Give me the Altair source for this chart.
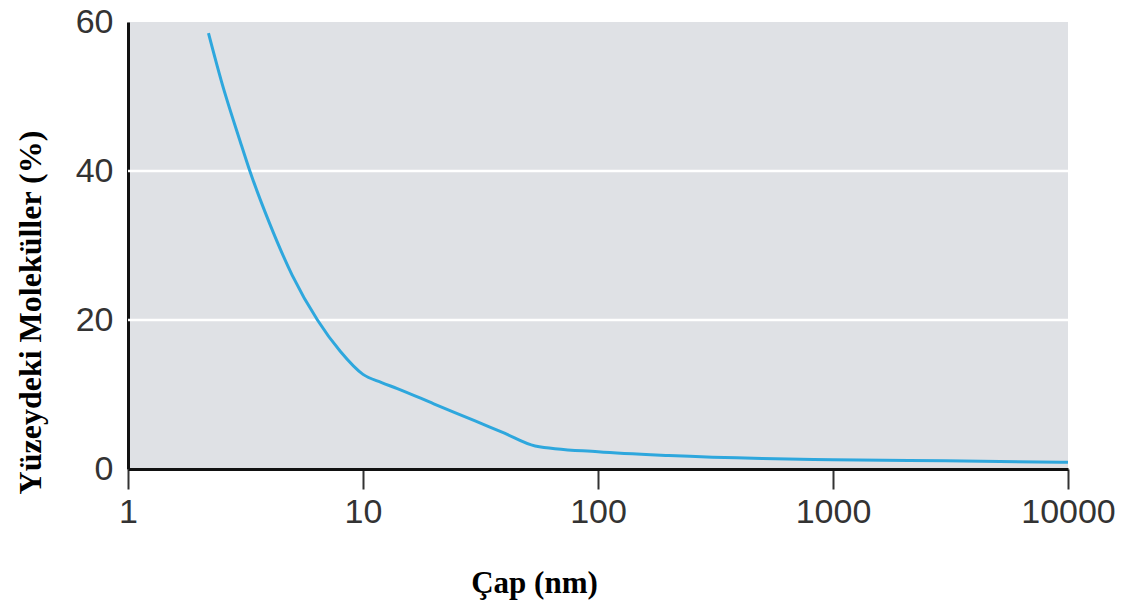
import altair as alt
import pandas as pd

# Particle diameter (nm) and share of molecules sitting at the surface (%)
diameter_nm = [2.2, 2.5, 3.0, 3.3, 4.0, 5.0, 6.4, 8.0, 10.0, 12.0, 14.0, 20.0, 30.0, 40.0, 54.0,
               100.0, 200.0, 500.0, 1000.0, 3000.0, 10000.0]
surface_pct = [58.5, 52.0, 44.0, 40.0, 33.0, 26.0, 20.0, 15.8, 12.7, 11.6, 10.8, 8.75, 6.45, 4.8, 3.1,
               2.3, 1.8, 1.4, 1.25, 1.1, 0.9]

x_ticks = [1, 10, 100, 1000, 10000]
y_ticks = [0, 20, 40, 60]

df = pd.DataFrame({"d": diameter_nm, "p": surface_pct})

label_font = "Liberation Sans"
title_font = "Liberation Serif"

curve = alt.Chart(df).mark_line(
    color="#2ea7dd", strokeWidth=3, interpolate="monotone"
).encode(
    x=alt.X(
        "d:Q",
        scale=alt.Scale(type="log", domain=[1, 10000], nice=False),
        axis=alt.Axis(
            values=x_ticks,
            format="d",
            title="Çap (nm)",
            titleFont=title_font,
            titleFontSize=31,
            titleFontWeight="bold",
            titleColor="#000000",
            titleX=406,
            titleY=123,
            titleBaseline="alphabetic",
            labelFont=label_font,
            labelFontSize=34,
            labelColor="#333333",
            labelPadding=6,
            labelFlush=False,
            tickSize=20,
            tickWidth=2,
            tickColor="#333333",
            domainColor="#111111",
            domainWidth=3,
            grid=False,
        ),
    ),
    y=alt.Y(
        "p:Q",
        scale=alt.Scale(domain=[0, 60], nice=False),
        axis=alt.Axis(
            values=y_ticks,
            title="Yüzeydeki Moleküller (%)",
            titleFont=title_font,
            titleFontSize=32,
            titleFontWeight="bold",
            titleColor="#000000",
            titleAngle=-90,
            titleX=-98,
            titleY=290,
            titleBaseline="middle",
            labelFont=label_font,
            labelFontSize=34,
            labelColor="#333333",
            labelPadding=15,
            labelFlush=False,
            ticks=False,
            domainColor="#111111",
            domainWidth=3,
            grid=False,
        ),
    ),
)

grid = alt.Chart(pd.DataFrame({"g": [20, 40]})).mark_rule(
    color="#ffffff", strokeWidth=2.5
).encode(y="g:Q")

chart = (
    alt.layer(grid, curve)
    .properties(
        width=940,
        height=447,
        autosize=alt.AutoSizeParams(type="none"),
        padding={"left": 128, "top": 22, "right": 53, "bottom": 141},
        background="#ffffff",
    )
    .configure_view(fill="#dfe1e5", stroke=None)
)

chart.save("out.html", embed_options={"renderer": "svg", "actions": False})
